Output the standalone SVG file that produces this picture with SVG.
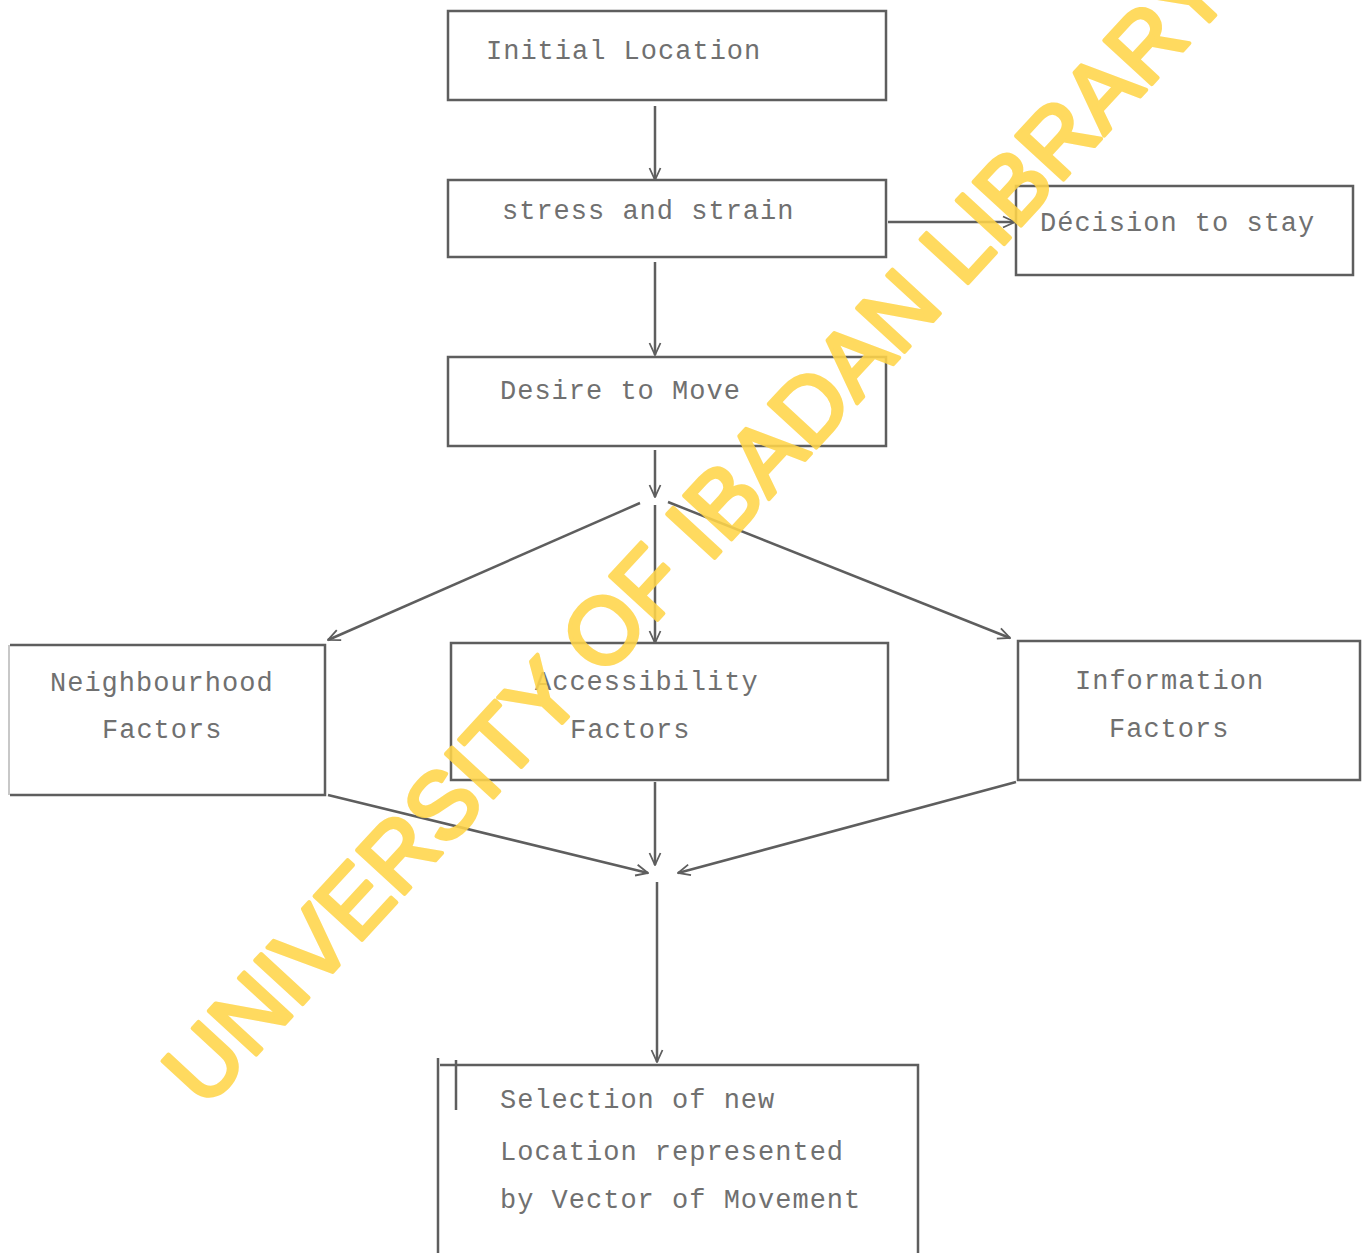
<svg xmlns="http://www.w3.org/2000/svg" width="1367" height="1253" viewBox="0 0 1367 1253">
<defs>
<style>
.box{fill:none;stroke:#5e5e5e;stroke-width:2.5}
.faint{fill:none;stroke:#c8c8c8;stroke-width:2}
.lbl{font-family:"Liberation Mono","DejaVu Sans Mono",monospace;font-size:27px;fill:#707070;letter-spacing:1px}
.con{fill:none;stroke:#5e5e5e;stroke-width:2.5}
.wm{font-family:"Liberation Sans","DejaVu Sans",sans-serif;font-size:93.7px;fill:#FFD54A;stroke:#FFD54A;stroke-width:4;stroke-linejoin:round;opacity:0.88}
</style>
<marker id="arr" viewBox="0 0 14 14" refX="13" refY="7" markerWidth="14" markerHeight="14" markerUnits="userSpaceOnUse" orient="auto">
<path d="M1,1.5 L13,7 L1,12.5" fill="none" stroke="#5e5e5e" stroke-width="1.8"/>
</marker>
</defs>
<rect width="1367" height="1253" fill="#ffffff"/>

<g id="connectors">
<line class="con" x1="655" y1="106" x2="655" y2="180" marker-end="url(#arr)"/>
<line class="con" x1="888" y1="222" x2="1015" y2="222" marker-end="url(#arr)"/>
<line class="con" x1="655" y1="262" x2="655" y2="355" marker-end="url(#arr)"/>
<line class="con" x1="655" y1="450" x2="655" y2="497" marker-end="url(#arr)"/>
<line class="con" x1="640" y1="503" x2="328" y2="640" marker-end="url(#arr)"/>
<line class="con" x1="655" y1="505" x2="655" y2="643" marker-end="url(#arr)"/>
<line class="con" x1="668" y1="502" x2="1010" y2="638" marker-end="url(#arr)"/>
<line class="con" x1="328" y1="795" x2="648" y2="873" marker-end="url(#arr)"/>
<line class="con" x1="655" y1="782" x2="655" y2="865" marker-end="url(#arr)"/>
<line class="con" x1="1016" y1="782" x2="678" y2="873" marker-end="url(#arr)"/>
<line class="con" x1="657" y1="882" x2="657" y2="1062" marker-end="url(#arr)"/>
</g>

<g id="initial-location">
<rect class="box" x="448" y="11" width="438" height="89"/>
<text class="lbl" x="486" y="59">Initial Location</text>
</g>

<g id="stress-strain">
<rect class="box" x="448" y="180" width="438" height="77"/>
<text class="lbl" x="502" y="219">stress and strain</text>
</g>

<g id="decision-stay">
<rect class="box" x="1016" y="186" width="337" height="89"/>
<text class="lbl" x="1040" y="231">Décision to stay</text>
</g>

<g id="desire-move">
<rect class="box" x="448" y="357" width="438" height="89"/>
<text class="lbl" x="500" y="399">Desire to Move</text>
</g>

<g id="neighbourhood">
<line class="faint" x1="9" y1="645" x2="9" y2="795"/>
<path class="box" d="M10,645 H325 V795 H10"/>
<text class="lbl" x="50" y="691">Neighbourhood</text>
<text class="lbl" x="102" y="738">Factors</text>
</g>

<g id="accessibility">
<rect class="box" x="451" y="643" width="437" height="137"/>
<text class="lbl" x="535" y="690">Accessibility</text>
<text class="lbl" x="570" y="738">Factors</text>
</g>

<g id="information">
<rect class="box" x="1018" y="641" width="342" height="139"/>
<text class="lbl" x="1075" y="689">Information</text>
<text class="lbl" x="1109" y="737">Factors</text>
</g>

<g id="selection">
<path class="box" d="M438,1058 V1253 M440,1065 H918 V1253 M456,1060 V1110"/>
<text class="lbl" x="500" y="1108">Selection of new</text>
<text class="lbl" x="500" y="1160">Location represented</text>
<text class="lbl" x="500" y="1208">by Vector of Movement</text>
</g>

<text class="wm" transform="translate(205,1110) rotate(-47.3)" x="0" y="0">UNIVERSITY OF IBADAN LIBRARY</text>
</svg>
